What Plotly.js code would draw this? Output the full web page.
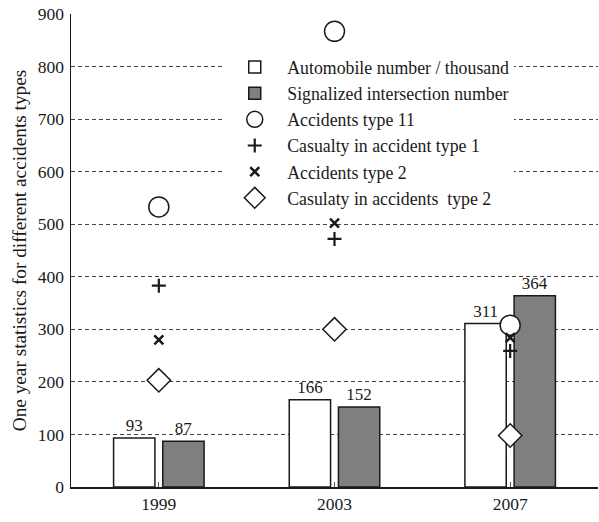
<!DOCTYPE html>
<html>
<head>
<meta charset="utf-8">
<script src="https://cdn.plot.ly/plotly-3.0.1.min.js"></script>
<style>html,body{margin:0;padding:0;background:#fff;}#chart{width:599px;height:522px;}</style>
</head>
<body>
<div id="chart"></div>
<script>
const years = ['1999', '2003', '2007'];
const automobile = [93, 166, 311];
const signalized = [87, 152, 364];
const accType11 = [533, 867, 308];
const casualtyType1 = [383, 472, 259];
const accType2 = [280, 502, 284];
const casualtyType2 = [203, 300, 98];

const FONT = 'Liberation Serif, Times New Roman, serif';
const INK = '#1a1a1a';

const traces = [
  {type: 'bar', name: 'Automobile number / thousand', x: years, y: automobile,
   marker: {color: '#ffffff', line: {color: INK, width: 1.5}},
   text: automobile.map(String), textposition: 'outside', cliponaxis: false,
   textfont: {family: FONT, size: 17, color: INK}},
  {type: 'bar', name: 'Signalized intersection number', x: years, y: signalized,
   marker: {color: '#7f7f82', line: {color: INK, width: 1.5}},
   text: signalized.map(String), textposition: 'outside', cliponaxis: false,
   textfont: {family: FONT, size: 17, color: INK}},
  {type: 'scatter', mode: 'markers', name: 'Accidents type 11', x: years, y: accType11,
   cliponaxis: false,
   marker: {symbol: 'circle', size: 20, color: '#ffffff', line: {color: INK, width: 1.5}}},
  {type: 'scatter', mode: 'markers', name: 'Casualty in accident type 1', x: years, y: casualtyType1,
   marker: {symbol: 'cross-thin-open', size: 10, color: INK, line: {color: INK, width: 2.2}}},
  {type: 'scatter', mode: 'markers', name: 'Accidents type 2', x: years, y: accType2,
   marker: {symbol: 'x-thin-open', size: 9, color: INK, line: {color: INK, width: 2.5}}},
  {type: 'scatter', mode: 'markers', name: 'Casulaty in accidents  type 2', x: years, y: casualtyType2,
   marker: {symbol: 'diamond', size: 18, color: '#ffffff', line: {color: INK, width: 1.5}}}
];

const layout = {
  width: 599, height: 522,
  margin: {l: 71, r: 1, t: 14, b: 35, pad: 0},
  paper_bgcolor: '#ffffff', plot_bgcolor: '#ffffff',
  font: {family: FONT, size: 17, color: INK},
  barmode: 'group', bargap: 0.44, bargroupgap: 0.16,
  showlegend: true,
  legend: {x: 0.287, y: 0.926, xanchor: 'left', yanchor: 'top',
           bgcolor: 'rgba(255,255,255,1)', borderwidth: 0,
           font: {family: FONT, size: 17.8, color: INK}, tracegroupgap: 0,
           itemwidth: 55, traceorder: 'normal'},
  xaxis: {type: 'category', range: [-0.5, 2.5], showline: true, linecolor: INK, linewidth: 1.5,
          ticks: 'inside', ticklen: 5, tickcolor: '#555', tickwidth: 1,
          showgrid: false, zeroline: false,
          tickfont: {family: FONT, size: 17.5, color: INK}},
  yaxis: {range: [0, 900], dtick: 100, showline: true, linecolor: INK, linewidth: 1.5,
          ticks: '', ticklabelstandoff: 2,
          showgrid: true, gridcolor: '#444', griddash: '4px,3px', gridwidth: 1,
          zeroline: false,
          tickfont: {family: FONT, size: 17.5, color: INK},
          title: {text: 'One year statistics for different accidents types', standoff: 6,
                  font: {family: FONT, size: 19.3, color: INK}}}
};

Plotly.newPlot('chart', traces, layout, {displayModeBar: false, staticPlot: true});
</script>
</body>
</html>
